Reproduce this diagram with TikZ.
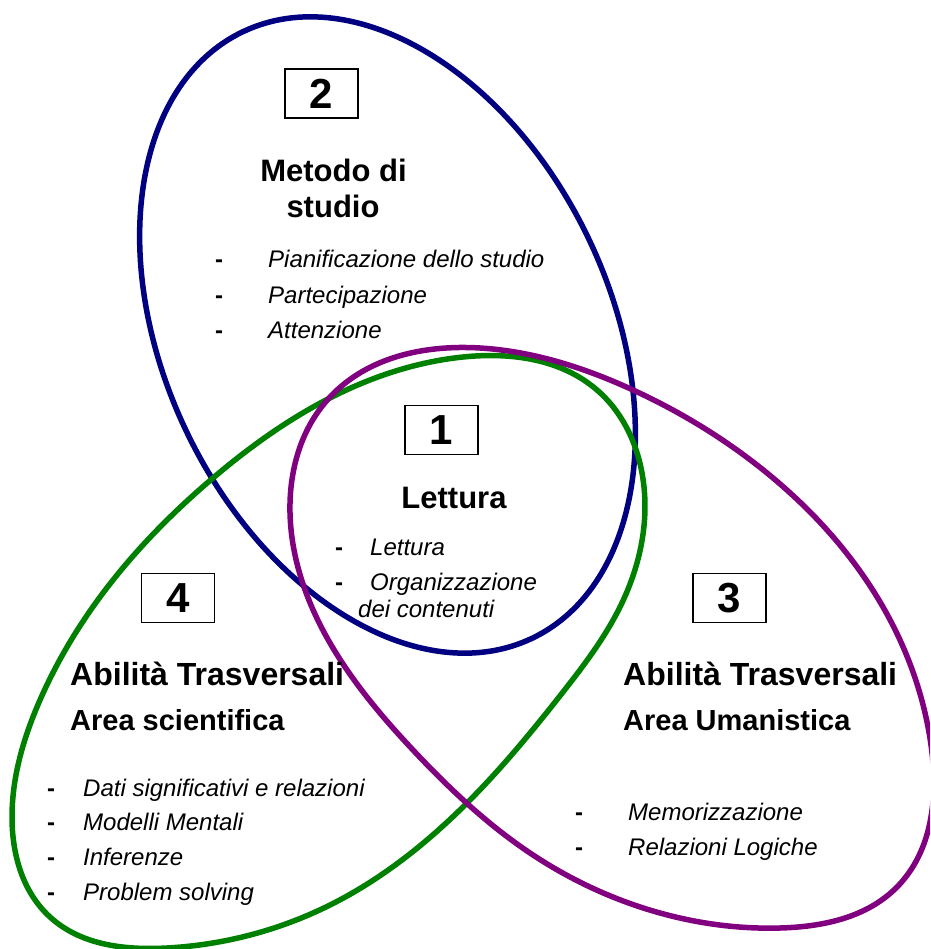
\documentclass[tikz,border=0pt]{standalone}
\usepackage{fontspec}
\setmainfont{Liberation Sans}
\usetikzlibrary{hobby}
\definecolor{cblue}{RGB}{0,0,128}
\definecolor{cgreen}{RGB}{0,128,0}
\definecolor{cpurple}{RGB}{128,0,128}
\tikzset{
  ring/.style={line width=5.5pt},
  freering/.style={line width=5.5pt, use Hobby shortcut, closed=true},
  numbox/.style={draw, line width=1.5pt, minimum width=73pt, minimum height=49pt, inner sep=0pt,
    font=\fontsize{42}{42}\selectfont\bfseries},
  headc/.style={anchor=base, inner sep=0pt, font=\fontsize{31}{36}\selectfont\bfseries},
  headw/.style={anchor=base west, inner sep=0pt, font=\fontsize{32}{36}\selectfont\bfseries},
  subw/.style={anchor=base west, inner sep=0pt, font=\fontsize{29}{34}\selectfont\bfseries},
  itemw/.style={anchor=base west, inner sep=0pt, font=\fontsize{24}{28}\selectfont\itshape},
  dashmark/.style={anchor=base west, inner sep=0pt, font=\fontsize{24}{28}\selectfont\bfseries},
}
\begin{document}
\begin{tikzpicture}[x=1pt,y=-1pt]
\useasboundingbox (0,0) rectangle (930,949);
\begin{scope}
\clip (0,0) rectangle (930,949);
% blue ellipse (2)
\coordinate (cb) at (387.5,335);
\draw[ring, cblue, rotate around={-64.5:(cb)}] (cb) ellipse [x radius=336, y radius=223];
% green ellipse (4)
\draw[freering, cgreen] (463,357) .. (597,390) .. (642,473) .. (620,607) .. (563,692) .. (465,805)
 .. (330,905) .. (167,948) .. (50,917) .. (12,817) .. (40,700) .. (100,597) .. (213,478) .. (340,393);
% purple ellipse (3)
\draw[freering, cpurple] (480,348) .. (633,390) .. (767,473) .. (883,607) .. (931,745) .. (897,887)
 .. (780,928) .. (660,913) .. (530,853) .. (413,750) .. (330,643) .. (290,513) .. (330,397);
\end{scope}

% region 2
\node[numbox] (b2) at (321.5,93.5) {2};
\node[headc] (h2a) at (333.5,182) {Metodo di};
\node[headc] (h2b) at (333,218) {studio};
\node[dashmark] (d2a) at (215,268) {-};
\node[dashmark] (d2b) at (215,303) {-};
\node[dashmark] (d2c) at (215,338) {-};
\node[itemw] (i2a) at (268,268) {Pianificazione dello studio};
\node[itemw] (i2b) at (268,303) {Partecipazione};
\node[itemw] (i2c) at (268,338) {Attenzione};

% region 1
\node[numbox] (b1) at (441.5,430) {1};
\node[headc] (h1) at (454,508) {Lettura};
\node[dashmark] (d1a) at (335,555) {-};
\node[dashmark] (d1b) at (335,590) {-};
\node[itemw] (i1a) at (370,555) {Lettura};
\node[itemw] (i1b) at (370,590) {Organizzazione};
\node[itemw] (i1c) at (358,617) {dei contenuti};

% region 4
\node[numbox] (b4) at (178,598) {4};
\node[headw] (h4a) at (70,685) {Abilità Trasversali};
\node[subw] (h4b) at (70,730) {Area scientifica};
\node[dashmark] (d4a) at (47,796) {-};
\node[dashmark] (d4b) at (47,830) {-};
\node[dashmark] (d4c) at (47,865) {-};
\node[dashmark] (d4d) at (47,900) {-};
\node[itemw] (i4a) at (83,796) {Dati significativi e relazioni};
\node[itemw] (i4b) at (83,830) {Modelli Mentali};
\node[itemw] (i4c) at (83,865) {Inferenze};
\node[itemw] (i4d) at (83,900) {Problem solving};

% region 3
\node[numbox] (b3) at (729.5,598) {3};
\node[headw] (h3a) at (623,685) {Abilità Trasversali};
\node[subw] (h3b) at (623,730) {Area Umanistica};
\node[dashmark] (d3a) at (575,820) {-};
\node[dashmark] (d3b) at (575,855) {-};
\node[itemw] (i3a) at (628,820) {Memorizzazione};
\node[itemw] (i3b) at (628,855) {Relazioni Logiche};
\end{tikzpicture}
\end{document}
